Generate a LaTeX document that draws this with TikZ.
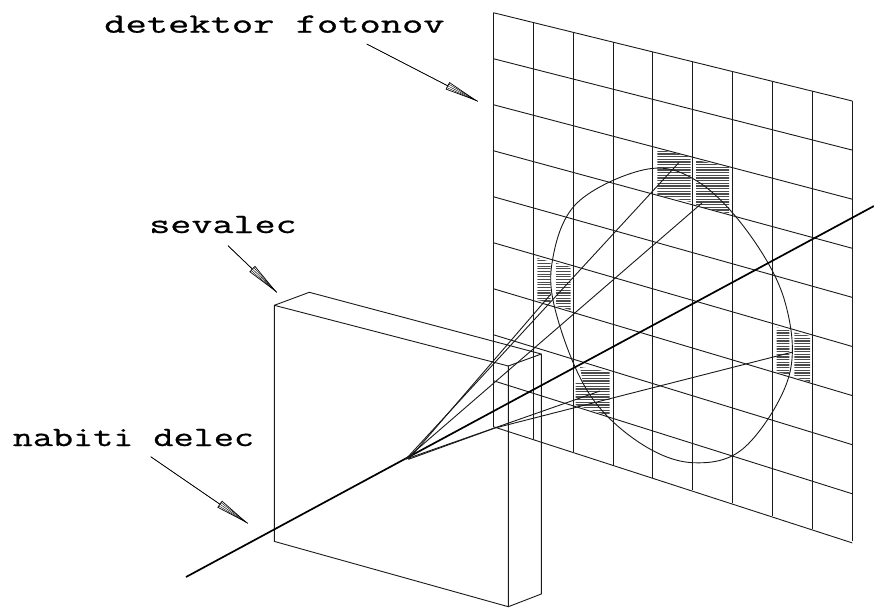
\documentclass[tikz,border=0pt]{standalone}
\usepackage{fontspec}
\newfontfamily\labfont[FakeBold=0.7]{Latin Modern Mono}
\usetikzlibrary{arrows.meta,calc}
\tikzset{
  wire/.style={line width=0.9pt,black!90,line join=round},
  track/.style={line width=1.7pt,black},
  hatchline/.style={line width=1.3pt,black!70},
  lab/.style={anchor=base west,inner sep=0pt,transform shape,font=\labfont\fontsize{28}{28}\selectfont},
  pointer/.style={line width=0.7pt,-{Triangle[open,length=34pt,width=8pt,line width=0.7pt]}}
}
\newcommand{\headlines}[2]{
\draw[line width=0.4pt] (#1) -- (#2);
\draw[line width=0.4pt] ($(#2)!34pt!(#1)!2pt!90:(#2)$) -- (#2);
\draw[line width=0.4pt] ($(#2)!34pt!(#1)!2pt!-90:(#2)$) -- (#2);}
\begin{document}
\begin{tikzpicture}[x=1pt,y=-1pt]
\useasboundingbox (0,0) rectangle (874,607);
\begin{scope}
\clip (657.3,149)--(690.7,157)--(690.7,202)--(657.3,195)--cycle
(696,160)--(729,167)--(729,213.5)--(696,206)--cycle
(537.3,258)--(550.7,262)--(550.7,303)--(537.3,300)--cycle
(556,263)--(570.7,267)--(570.7,310)--(556,306)--cycle
(580,367)--(609.5,372)--(609.5,414)--(603,414)--(575.7,405)--(575.7,383)--(583,383)--cycle
(776.7,327.5)--(789.3,330)--(789.3,375)--(776.7,372)--cycle
(794.3,332.5)--(810,336)--(810,382)--(794.3,377)--cycle;
\foreach \y in {146,148.67,...,420}
\draw[hatchline] (530,\y) -- (815,\y);
\end{scope}
\foreach \i in {0,...,9}{
\draw[wire] (493.3,{12.7+46*\i}) -- (852.3,{101+49.1*\i});
\draw[wire] ({493.3+39.89*\i},{12.7+9.81*\i}) -- ({493.3+39.89*\i},{426.7+12.73*\i});}
\draw[wire] plot[smooth cycle,tension=0.6] coordinates {(648,169) (700,183) (750,235) (785,302) (789,376) (745,447) (693,462.7) (640,443) (590,395) (558,320) (552,263) (577,203)};
\draw[wire] (274.3,305.3) -- (508.3,366) -- (508.3,606.7) -- (274.3,541.4) -- cycle;
\draw[wire] (274.3,305.3) -- (309.3,292.3) -- (541.3,354) -- (508.3,366);
\draw[wire] (541.3,354) -- (541.3,594) -- (508.3,606.7);
\draw[track] (186,577) -- (874,206);
\coordinate (emit) at (406,459);
\coordinate (emitb) at (408.5,459.3);
\draw[wire] (emit) -- (679,162.5);
\draw[wire] (emitb) -- (551,294);
\draw[wire] (emit) -- (702,203);
\draw[wire] (emit) -- (600,391);
\draw[wire] (emitb) -- (495,428) -- (791.7,352.3);
\node[lab,xscale=1.475] (detektor) at (104,32.7) {detektor fotonov};
\node[lab,xscale=1.46] (sevalec) at (149,233) {sevalec};
\node[lab,xscale=1.394] (delec) at (12.5,446) {nabiti delec};
\coordinate (detektorstart) at (366.7,44);
\coordinate (detektortip) at (477.7,101.3);
\coordinate (sevalecstart) at (228,245.7);
\coordinate (sevalectip) at (276.7,292.3);
\coordinate (delecstart) at (150.7,456.7);
\coordinate (delectip) at (247.7,523.3);
\foreach \n in {detektor,sevalec,delec}{
\draw[pointer] (\n start) -- (\n tip);
\headlines{\n start}{\n tip}}
\end{tikzpicture}
\end{document}
